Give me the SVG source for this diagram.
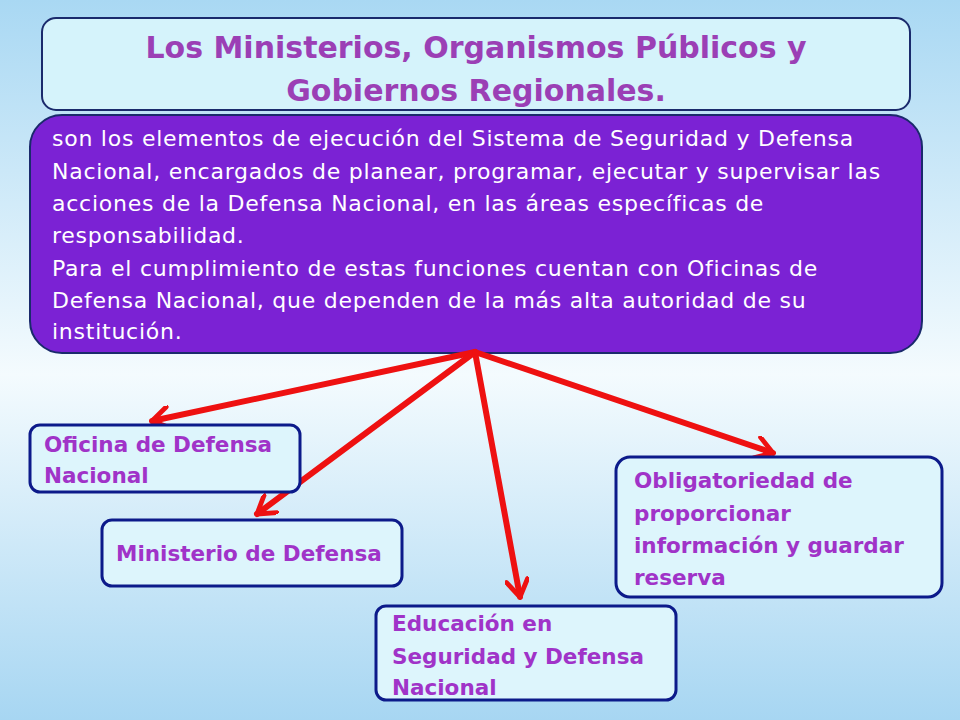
<svg xmlns="http://www.w3.org/2000/svg" width="960" height="720" viewBox="0 0 960 720">
<defs>
<linearGradient id="bg" x1="0" y1="0" x2="0" y2="1">
<stop offset="0" stop-color="#a9d8f3"/><stop offset="0.52" stop-color="#f4fbfe"/><stop offset="1" stop-color="#a7d6f2"/>
</linearGradient>
<marker id="ah" viewBox="0 0 10 10" refX="8" refY="5" markerWidth="4" markerHeight="4" orient="auto" markerUnits="strokeWidth">
<path d="M1,0.5 L8,5 L1,9.5" fill="none" stroke="#ee1111" stroke-width="2" stroke-linecap="round" stroke-linejoin="round"/>
</marker>
</defs>
<style>
.box{fill:#ddf5fc;stroke:#0c1a8a;stroke-width:3}
.lbl{font-family:"DejaVu Sans",sans-serif;font-weight:bold;font-size:21.5px;fill:#a033c8}
.body{font-family:"DejaVu Sans",sans-serif;font-size:22px;letter-spacing:0.75px;fill:#ffffff}
.arr{stroke:#ee1111;stroke-width:6;fill:none;stroke-linecap:round}
</style>
<rect width="960" height="720" fill="url(#bg)"/>
<g id="title"><rect x="42" y="18" width="868" height="92" rx="14" fill="#d5f3fb" stroke="#1a2a6c" stroke-width="2"/>
<text x="476" y="58" text-anchor="middle" font-family="DejaVu Sans,sans-serif" font-weight="bold" font-size="30" fill="#9b3fb5">Los Ministerios, Organismos Públicos y</text>
<text x="476" y="101" text-anchor="middle" font-family="DejaVu Sans,sans-serif" font-weight="bold" font-size="30" fill="#9b3fb5">Gobiernos Regionales.</text></g>
<g id="main"><rect x="30" y="115" width="892" height="238" rx="32" fill="#7b22d4" stroke="#1a2a6c" stroke-width="2"/>
<text class="body" x="52" y="146">son los elementos de ejecución del Sistema de Seguridad y Defensa</text>
<text class="body" x="52" y="179">Nacional, encargados de planear, programar, ejecutar y supervisar las</text>
<text class="body" x="52" y="211">acciones de la Defensa Nacional, en las áreas específicas de</text>
<text class="body" x="52" y="243">responsabilidad.</text>
<text class="body" x="52" y="276">Para el cumplimiento de estas funciones cuentan con Oficinas de</text>
<text class="body" x="52" y="308">Defensa Nacional, que dependen de la más alta autoridad de su</text>
<text class="body" x="52" y="339">institución.</text></g>
<g id="connectors">
<line class="arr" x1="475" y1="352" x2="152" y2="421" marker-end="url(#ah)"/>
<line class="arr" x1="475" y1="352" x2="257" y2="514" marker-end="url(#ah)"/>
<line class="arr" x1="475" y1="352" x2="520" y2="597" marker-end="url(#ah)"/>
<line class="arr" x1="475" y1="352" x2="773" y2="453" marker-end="url(#ah)"/>
</g>
<g id="n1"><rect class="box" x="30" y="425" width="270" height="67" rx="10"/>
<text class="lbl" x="44" y="452">Oficina de Defensa</text><text class="lbl" x="44" y="483">Nacional</text></g>
<g id="n2"><rect class="box" x="102" y="520" width="300" height="66" rx="10"/>
<text class="lbl" x="116" y="561">Ministerio de Defensa</text></g>
<g id="n3"><rect class="box" x="376" y="606" width="300" height="94" rx="10"/>
<text class="lbl" x="392" y="631">Educación en</text><text class="lbl" x="392" y="664">Seguridad y Defensa</text><text class="lbl" x="392" y="695">Nacional</text></g>
<g id="n4"><rect class="box" x="616" y="457" width="326" height="140" rx="14"/>
<text class="lbl" x="634" y="488">Obligatoriedad de</text><text class="lbl" x="634" y="521">proporcionar</text><text class="lbl" x="634" y="553">información y guardar</text><text class="lbl" x="634" y="585">reserva</text></g>
</svg>
